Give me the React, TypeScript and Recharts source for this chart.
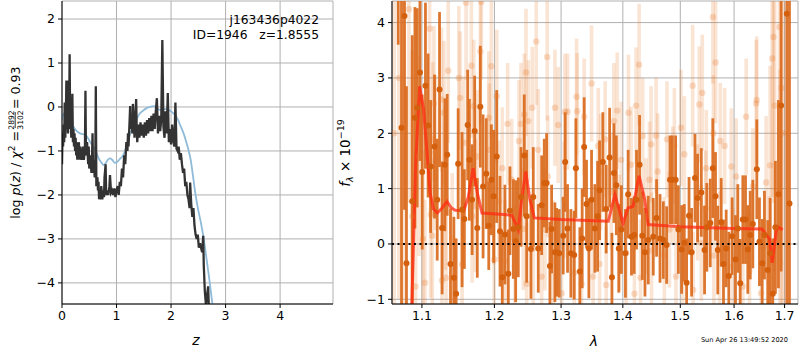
import React from 'react';
import {
  ComposedChart, Line, Scatter, ErrorBar, XAxis, YAxis, CartesianGrid, ReferenceLine,
} from 'recharts';

// ---------- Left panel: log p(z) ----------
const zTicks = [0, 1, 2, 3, 4];
const lpTicks = [-4, -3, -2, -1, 0, 1, 2];

const pzCurve: [number, number][] = [
  [0.00, -1.3], [0.01, -0.6], [0.02, -0.9], [0.03, -0.4], [0.04, -0.8], [0.05, 0.1], [0.06, -0.7],
  [0.07, -0.3], [0.08, 0.6], [0.09, -0.5], [0.10, 0.0], [0.11, -0.6], [0.12, 0.6], [0.13, -0.4],
  [0.14, 1.2], [0.15, -0.5], [0.16, -0.2], [0.17, -0.7], [0.18, -0.4], [0.19, 0.3], [0.20, -0.8],
  [0.21, -0.5], [0.22, -0.9], [0.23, -0.6], [0.24, -1.0], [0.25, -0.7], [0.26, -1.1], [0.27, -0.8],
  [0.28, -1.2], [0.29, -0.9], [0.30, -1.1], [0.31, -0.8], [0.32, -1.2], [0.33, -0.9], [0.34, -1.1],
  [0.36, -1.2], [0.38, -0.9], [0.40, -1.2], [0.42, -1.0], [0.43, 0.37], [0.44, -1.1], [0.46, -0.8],
  [0.48, -1.3], [0.49, -0.9], [0.50, -1.4], [0.52, -1.1], [0.54, -1.5], [0.55, -1.2], [0.56, -0.6],
  [0.57, -1.5], [0.58, -1.2], [0.60, -1.6], [0.61, -1.4], [0.62, 0.47], [0.63, -1.8], [0.65, -1.6],
  [0.66, -1.9], [0.67, -1.7], [0.68, -2.1], [0.70, -1.9], [0.71, -2.1], [0.72, -1.8], [0.74, -2.1],
  [0.75, -1.9], [0.77, -2.05], [0.78, -1.6], [0.80, -1.3], [0.81, -2.0], [0.83, -1.9], [0.85, -2.0],
  [0.87, -1.8], [0.88, -1.55], [0.90, -1.95], [0.92, -1.9], [0.94, -2.0], [0.96, -1.85], [0.98, -2.05],
  [1.00, -1.9], [1.02, -1.8], [1.04, -2.0], [1.06, -1.7], [1.08, -1.8], [1.10, -1.4], [1.12, -1.6],
  [1.14, -1.1], [1.16, -1.3], [1.18, -0.8], [1.20, -1.0], [1.21, -0.6], [1.22, -0.9], [1.24, -0.3],
  [1.25, 0.02], [1.26, -0.5], [1.28, -0.2], [1.29, -0.6], [1.30, 0.07], [1.32, -0.4], [1.33, -0.7],
  [1.36, 0.18], [1.37, -0.5], [1.38, -0.8], [1.40, -0.4], [1.42, -0.7], [1.44, -0.35], [1.46, -0.65],
  [1.48, -0.4], [1.50, -0.7], [1.52, -0.35], [1.54, -0.65], [1.56, -0.3], [1.58, -0.6], [1.60, -0.25],
  [1.62, -0.55], [1.64, -0.2], [1.66, -0.55], [1.68, -0.15], [1.70, -0.5], [1.72, -0.1], [1.74, 0.2],
  [1.76, -0.6], [1.78, -0.2], [1.80, -0.55], [1.82, -0.3], [1.84, 1.52], [1.86, -0.45], [1.88, -0.7],
  [1.90, -0.1], [1.92, -0.6], [1.94, 0.32], [1.96, -0.8], [1.98, -0.5], [2.00, -0.85], [2.02, -0.4],
  [2.04, -0.75], [2.06, -0.9], [2.08, 0.1], [2.10, -0.95], [2.12, -1.0], [2.14, -0.9], [2.16, -1.2],
  [2.18, -1.05], [2.20, -1.3], [2.22, -1.5], [2.24, -1.4], [2.26, -1.8], [2.28, -1.7], [2.30, -2.0],
  [2.32, -2.1], [2.34, -2.3], [2.35, -1.72], [2.37, -2.2], [2.39, -2.5], [2.41, -2.3], [2.43, -2.7],
  [2.45, -2.9], [2.47, -3.0], [2.49, -2.9], [2.51, -3.2], [2.53, -3.1], [2.55, -3.2], [2.57, -3.3],
  [2.59, -2.93], [2.60, -3.6], [2.62, -4.2], [2.64, -4.5], [2.66, -4.3], [2.68, -4.08], [2.70, -4.8],
];

const pzTemplate: [number, number][] = [
  [0.00, -0.3], [0.02, -0.18], [0.05, -0.14], [0.09, -0.14], [0.14, -0.25], [0.21, -0.45],
  [0.27, -0.55], [0.33, -0.6], [0.39, -0.62], [0.45, -0.66], [0.51, -0.78], [0.57, -0.9],
  [0.62, -1.0], [0.67, -1.16], [0.72, -1.26], [0.76, -1.32], [0.80, -1.28], [0.84, -1.2],
  [0.88, -1.17], [0.92, -1.2], [0.97, -1.27], [1.02, -1.24], [1.07, -1.17], [1.12, -1.1],
  [1.18, -0.9], [1.24, -0.65], [1.30, -0.45], [1.36, -0.3], [1.42, -0.16], [1.49, -0.08],
  [1.56, -0.02], [1.63, 0.01], [1.68, 0.02], [1.74, -0.02], [1.80, -0.07], [1.86, -0.05],
  [1.92, -0.05], [2.00, -0.1], [2.07, -0.18], [2.13, -0.3], [2.18, -0.45], [2.23, -0.6],
  [2.28, -0.8], [2.32, -0.98], [2.36, -1.2], [2.40, -1.55], [2.45, -2.0], [2.50, -2.35],
  [2.55, -2.65], [2.60, -3.0], [2.65, -3.45], [2.70, -3.9], [2.75, -4.4], [2.80, -4.9],
];

// ---------- Right panel: spectrum ----------
const lamTicks = [1.1, 1.2, 1.3, 1.4, 1.5, 1.6, 1.7];
const fluxTicks = [-1, 0, 1, 2, 3, 4];

// [lambda, flux, err]
const specFaint: [number, number, number][] = [
  [1.0640, 2.0, 4.0], [1.0700, 3.0, 4.0], [1.0765, 1.37, 3.5], [1.0830, 4.24, 3.5], [1.0873, 0.5, 3.0],
  [1.0916, -0.77, 2.0], [1.0961, 1.58, 1.8], [1.1014, 0.09, 1.6], [1.1040, -0.7, 1.5], [1.1102, 3.89, 1.6],
  [1.1115, 0.53, 1.5], [1.1138, 0.15, 1.4], [1.1144, 1.89, 1.4], [1.1160, 2.54, 1.4], [1.1182, 1.65, 1.4],
  [1.1262, 2.61, 1.3], [1.1268, -0.66, 1.3], [1.1294, 2.37, 1.3], [1.1316, 0.83, 1.3], [1.1323, -0.61, 1.3],
  [1.1353, 3.13, 1.3], [1.1407, 0.08, 1.2], [1.1498, 3.0, 1.3], [1.1516, 2.64, 1.2], [1.1544, -0.37, 1.2],
  [1.1567, 1.83, 1.2], [1.1599, 4.36, 1.4], [1.1673, 3.22, 1.3], [1.1683, 0.5, 1.2], [1.1707, 2.49, 1.2],
  [1.1729, 0.69, 1.2], [1.1753, 1.58, 1.2], [1.1799, 3.48, 1.3], [1.1813, 4.37, 1.4], [1.1919, 2.28, 1.2],
  [1.1927, 1.7, 1.2], [1.1956, 3.21, 1.3], [1.1990, 0.83, 1.2], [1.1997, -0.28, 1.2], [1.2033, 2.67, 1.2],
  [1.2066, 0.77, 1.1], [1.2114, 1.37, 1.1], [1.2153, -0.31, 1.1], [1.2192, 2.17, 1.1], [1.2251, 1.16, 1.1],
  [1.2300, -0.4, 1.1], [1.2359, 1.86, 1.1], [1.2389, 2.17, 1.1], [1.2423, 0.27, 1.1], [1.2438, 2.34, 1.1],
  [1.2464, 3.1, 1.15], [1.2474, -0.72, 1.1], [1.2498, 2.22, 1.1], [1.2558, 2.46, 1.1], [1.2573, -0.08, 1.1],
  [1.2618, 3.66, 1.15], [1.2649, 1.7, 1.1], [1.2700, -0.59, 1.1], [1.2750, 0.26, 1.1], [1.2785, 3.38, 1.15],
  [1.2793, 1.22, 1.1], [1.2878, -0.31, 1.1], [1.2904, 2.46, 1.05], [1.2955, 2.15, 1.05], [1.3008, -0.89, 1.05],
  [1.3049, 0.8, 1.05], [1.3060, 2.39, 1.05], [1.3102, 2.39, 1.05], [1.3206, -0.52, 1.05], [1.3244, 2.66, 1.05],
  [1.3253, 2.4, 1.05], [1.3323, -0.72, 1.05], [1.3365, 2.3, 1.05], [1.3484, 2.9, 1.05], [1.3510, -0.59, 1.05],
  [1.3592, 1.77, 1.05], [1.3614, -0.36, 1.05], [1.3631, 1.3, 1.05], [1.3707, 1.89, 1.05], [1.3723, -0.74, 1.05],
  [1.3806, 0.94, 1.05], [1.3851, 2.22, 1.05], [1.3906, 2.41, 1.05], [1.3944, 0.2, 1.05], [1.3971, 1.52, 1.05],
  [1.4055, -0.16, 1.05], [1.4095, 2.37, 1.05], [1.4139, 1.43, 1.05], [1.4196, -0.9, 1.05], [1.4224, 2.5, 1.05],
  [1.4276, 3.24, 1.1], [1.4300, -0.61, 1.05], [1.4339, 1.95, 1.05], [1.4396, 0.5, 1.05], [1.4455, 1.16, 1.05],
  [1.4483, 1.8, 1.05], [1.4491, -0.12, 1.05], [1.4570, 1.96, 1.05], [1.4599, 1.31, 1.05], [1.4716, -0.2, 1.05],
  [1.4762, 1.89, 1.05], [1.4805, 0.26, 1.05], [1.4863, 1.07, 1.05], [1.4894, 1.77, 1.05], [1.4922, -0.59, 1.05],
  [1.5012, 2.1, 1.05], [1.5043, -0.46, 1.05], [1.5073, 1.62, 1.05], [1.5224, 2.86, 1.1], [1.5233, -0.83, 1.05],
  [1.5315, 0.75, 1.05], [1.5346, 2.52, 1.05], [1.5383, 0.02, 1.05], [1.5401, 2.73, 1.05], [1.5463, 0.64, 1.05],
  [1.5476, 1.37, 1.05], [1.5598, 4.1, 1.2], [1.5608, 2.0, 1.05], [1.5617, -0.21, 1.05], [1.5649, 3.28, 1.1],
  [1.5724, -0.1, 1.05], [1.5737, 1.86, 1.05], [1.5819, 1.77, 1.05], [1.5946, 1.4, 1.05], [1.5977, -0.4, 1.05],
  [1.6041, 1.22, 1.05], [1.6169, -0.77, 1.05], [1.6234, 2.3, 1.05], [1.6299, -0.49, 1.05], [1.6364, 1.04, 1.05],
  [1.6430, 2.54, 1.15], [1.6442, 2.6, 1.15], [1.6529, -0.89, 1.1], [1.6628, 1.11, 1.2], [1.6694, -0.64, 1.5],
  [1.6708, 1.42, 1.8], [1.6748, 3.35, 2.5], [1.6774, 3.74, 3.0], [1.6800, 2.5, 3.0], [1.6895, 3.92, 4.0],
  [1.6905, -0.35, 3.5], [1.6936, 2.82, 4.0], [1.6970, 2.0, 4.0],
];

const specBright: [number, number, number][] = [
  [1.0691, 5.5, 1.9], [1.0734, 2.1, 4.5], [1.0772, 4.12, 3.5], [1.0798, -0.35, 3.2], [1.0873, 0.77, 3.0],
  [1.0908, 2.28, 2.0], [1.0938, 2.46, 1.8], [1.0974, 3.1, 1.6], [1.1004, 1.3, 1.4], [1.1047, 2.86, 1.5],
  [1.1082, 2.14, 1.3], [1.1115, 1.4, 1.2], [1.1168, 1.76, 1.3], [1.1204, 0.8, 1.1], [1.1235, 2.79, 1.4],
  [1.1270, 0.29, 1.2], [1.1307, 1.43, 1.2], [1.1339, 1.61, 1.1], [1.1384, -0.36, 1.0], [1.1430, -0.61, 1.1],
  [1.1461, -0.9, 1.0], [1.1489, 1.45, 1.0], [1.1543, 0.62, 1.4], [1.1575, 0.45, 0.9], [1.1621, 2.15, 1.0],
  [1.1645, 1.52, 1.1], [1.1683, 0.8, 1.0], [1.1719, 2.04, 1.0], [1.1756, 0.29, 0.9], [1.1799, 2.48, 1.1],
  [1.1838, 1.04, 1.3], [1.1884, 1.27, 1.0], [1.1919, 0.33, 0.8], [1.1956, 1.16, 1.0], [1.1990, 0.86, 1.2],
  [1.2033, 1.58, 1.2], [1.2081, 0.23, 1.0], [1.2114, -0.6, 0.8], [1.2153, 0.17, 0.9], [1.2202, -0.54, 0.8],
  [1.2226, 0.6, 0.8], [1.2275, 0.27, 0.9], [1.2310, 0.05, 1.1], [1.2349, 0.3, 0.9], [1.2389, 0.85, 0.9],
  [1.2438, 1.6, 1.1], [1.2474, 0.5, 1.2], [1.2538, -0.09, 0.9], [1.2573, 0.85, 0.9], [1.2649, -0.08, 0.8],
  [1.2700, 0.7, 0.9], [1.2740, 1.1, 0.8], [1.2776, 1.1, 0.9], [1.2827, -0.4, 0.8], [1.2853, 0.27, 0.8],
  [1.2904, -0.15, 0.9], [1.2930, -0.15, 0.8], [1.2970, -0.17, 0.8], [1.3033, 0.15, 0.7], [1.3064, 1.48, 0.9],
  [1.3101, 0.28, 0.8], [1.3154, -0.17, 0.8], [1.3206, -0.2, 0.8], [1.3233, 1.37, 0.9], [1.3296, -0.5, 0.8],
  [1.3333, 0.1, 0.9], [1.3365, 1.75, 0.9], [1.3403, 0.72, 0.8], [1.3441, -0.08, 0.9], [1.3484, 0.8, 0.9],
  [1.3538, 0.28, 0.8], [1.3582, 0.5, 1.0], [1.3614, 0.97, 0.9], [1.3668, 1.48, 0.9], [1.3723, 0.63, 0.8],
  [1.3780, 1.56, 0.9], [1.3818, -0.6, 0.8], [1.3852, 1.28, 0.9], [1.3891, 1.06, 0.9], [1.3932, -0.08, 0.8],
  [1.3976, 0.26, 0.8], [1.4044, -0.17, 0.8], [1.4090, 0.9, 0.8], [1.4146, 0.13, 0.7], [1.4192, 0.16, 0.7],
  [1.4232, 0.8, 0.9], [1.4284, 1.43, 0.9], [1.4331, 0.15, 0.8], [1.4377, -0.15, 0.8], [1.4434, 0.07, 0.8],
  [1.4521, 0.13, 0.7], [1.4579, 0.47, 0.7], [1.4639, 0.1, 0.8], [1.4697, 0.07, 0.7], [1.4756, -0.02, 0.7],
  [1.4816, 1.16, 0.8], [1.4857, 1.16, 0.8], [1.4916, 1.16, 0.8], [1.4965, 0.26, 0.8], [1.5024, -0.1, 0.8],
  [1.5072, 0.02, 0.7], [1.5114, -0.7, 0.8], [1.5158, 0.51, 0.7], [1.5205, -0.15, 0.8], [1.5267, 1.19, 0.8],
  [1.5314, 0.83, 0.8], [1.5383, 0.93, 0.8], [1.5443, -0.11, 0.8], [1.5485, 0.3, 0.8], [1.5549, 0.38, 0.8],
  [1.5597, 1.37, 0.9], [1.5647, 0.86, 0.8], [1.5690, -0.11, 0.8], [1.5755, 0.39, 0.8], [1.5798, -0.36, 0.8],
  [1.5849, -0.08, 0.7], [1.5899, -0.58, 0.8], [1.5963, 0.14, 0.7], [1.6027, -0.28, 0.8], [1.6072, 0.28, 0.8],
  [1.6118, -0.71, 0.8], [1.6169, 0.44, 0.8], [1.6221, 0.44, 0.8], [1.6266, -0.1, 0.8], [1.6313, 0.16, 0.8],
  [1.6364, 0.36, 0.8], [1.6443, 1.35, 0.9], [1.6495, 0.04, 0.8], [1.6549, -0.35, 0.8], [1.6594, 0.16, 0.8],
  [1.6660, -0.47, 0.9], [1.6708, -0.17, 1.0], [1.6760, -0.9, 1.0], [1.6814, 0.3, 1.2], [1.6875, 0.9, 1.7],
  [1.6929, 2.5, 3.0], [1.7045, 4.16, 6.0], [1.7100, 0.73, 6.0],
];

const modelSpec: [number, number][] = [
  [1.0830, -3.0], [1.0870, -1.0], [1.0916, 1.4], [1.0970, 2.85], [1.1022, 2.43], [1.1065, 1.7],
  [1.1108, 0.93], [1.1153, 0.63], [1.1205, 0.56], [1.1270, 0.65], [1.1335, 0.77], [1.1390, 0.66],
  [1.1448, 0.61], [1.1567, 0.6], [1.1630, 0.85], [1.1697, 1.37], [1.1760, 0.9], [1.1823, 0.56],
  [1.2033, 0.54], [1.2253, 0.52], [1.2349, 0.26], [1.2399, 0.8], [1.2459, 1.31], [1.2523, 0.8],
  [1.2588, 0.47], [1.3000, 0.44], [1.3757, 0.41], [1.3868, 0.89], [1.4004, 0.37], [1.4088, 0.65],
  [1.4172, 0.68], [1.4276, 1.23], [1.4374, 0.8], [1.4432, 0.35], [1.5000, 0.31], [1.6000, 0.28],
  [1.6547, 0.27], [1.6694, 0.09], [1.6750, -0.34], [1.6834, 0.25], [1.6874, 0.3], [1.6962, 0.26],
];

const FONT = 'DejaVu Sans';
const minus = (v: number) => String(v).replace('-', '\u2212');
const tickStyle = { fill: '#000', fontSize: 12.5, fontFamily: FONT };

const pzData = pzCurve.map(([z, lp]) => ({ z, lp }));
const tplData = pzTemplate.map(([z, lp]) => ({ z, lp }));
const faintData = specFaint.map(([lam, f, e]) => ({ lam, f, e }));
const brightData = specBright.map(([lam, f, e]) => ({ lam, f, e }));
const modelData = modelSpec.map(([lam, f]) => ({ lam, f }));

const FaintDot = (p: any) => (
  <circle cx={p.cx} cy={p.cy} r={3.2} fill="rgb(230,120,40)" fillOpacity={0.25} />
);
const BrightDot = (p: any) => (
  <circle cx={p.cx} cy={p.cy} r={3} fill="#d4600e" />
);

// plot-area clip for the spectrum panel (chart-local coordinates)
const SPEC_W = 460;
const SPEC_H = 350;
const SPEC_M = { top: 1, right: 2, bottom: 16, left: 0 };
const SPEC_YW = 52;
const SPEC_XH = 30;

const clipCss = `
.specwrap .recharts-errorBar, .specwrap .recharts-errorBars, .specwrap .recharts-scatter {
  clip-path: url(#specPlotClip);
}`;

export default function App() {
  return (
    <div style={{ position: 'absolute', left: 0, top: 0, width: 800, height: 350, background: '#fff', fontFamily: FONT }}>
      <style>{clipCss}</style>
      <svg width={0} height={0} style={{ position: 'absolute' }}>
        <defs>
          <clipPath id="specPlotClip" clipPathUnits="userSpaceOnUse">
            <rect x={SPEC_M.left + SPEC_YW} y={SPEC_M.top}
              width={SPEC_W - SPEC_M.left - SPEC_M.right - SPEC_YW}
              height={SPEC_H - SPEC_M.top - SPEC_M.bottom - SPEC_XH} />
          </clipPath>
        </defs>
      </svg>
      <div style={{ position: 'absolute', left: 0, top: 0 }}>
        <ComposedChart width={340} height={350} margin={{ top: 1, right: 7, bottom: 16, left: 0 }}>
          <CartesianGrid stroke="#b0b0b0" strokeWidth={1} />
          <XAxis type="number" dataKey="z" domain={[0, 4.97]} ticks={zTicks} allowDataOverflow
            height={30} tickSize={4} tickMargin={3} stroke="#000" tick={tickStyle} />
          <XAxis xAxisId="top" orientation="top" type="number" dataKey="z" domain={[0, 4.97]}
            height={0} tick={false} tickLine={false} axisLine={{ stroke: '#000' }} />
          <YAxis type="number" dataKey="lp" domain={[-4.48, 2.41]} ticks={lpTicks} allowDataOverflow
            width={62} tickSize={4} tickMargin={3} stroke="#000" tick={tickStyle} tickFormatter={minus} />
          <YAxis yAxisId="right" orientation="right" type="number" domain={[-4.48, 2.41]}
            width={0} tick={false} tickLine={false} axisLine={{ stroke: '#000' }} />
          <Line data={tplData} dataKey="lp" type="monotone" stroke="#8fbbd9" strokeWidth={1.8}
            dot={false} isAnimationActive={false} />
          <Line data={pzData} dataKey="lp" type="linear" stroke="#333333" strokeWidth={2.3}
            dot={false} isAnimationActive={false} />
        </ComposedChart>
      </div>
      <div className="specwrap" style={{ position: 'absolute', left: 340, top: 0 }}>
        <ComposedChart width={SPEC_W} height={SPEC_H} margin={SPEC_M}>
          <CartesianGrid stroke="#b0b0b0" strokeWidth={1} />
          <XAxis type="number" dataKey="lam" scale="log" domain={[1.0612, 1.7276]} ticks={lamTicks}
            allowDataOverflow height={SPEC_XH} tickSize={4} tickMargin={3} stroke="#000" tick={tickStyle} />
          <XAxis xAxisId="top" orientation="top" type="number" scale="log" dataKey="lam" domain={[1.0612, 1.7276]}
            height={0} tick={false} tickLine={false} axisLine={{ stroke: '#000' }} />
          <YAxis type="number" dataKey="f" domain={[-1.085, 4.39]} ticks={fluxTicks} allowDataOverflow
            width={SPEC_YW} tickSize={4} tickMargin={3} stroke="#000" tick={tickStyle} tickFormatter={minus} />
          <YAxis yAxisId="right" orientation="right" type="number" domain={[-1.085, 4.39]}
            width={0} tick={false} tickLine={false} axisLine={{ stroke: '#000' }} />
          <Scatter data={faintData} dataKey="f" shape={FaintDot} isAnimationActive={false}>
            <ErrorBar dataKey="e" direction="y" width={0} stroke="rgb(230,120,40)" strokeOpacity={0.2}
              strokeWidth={3.6} isAnimationActive={false} />
          </Scatter>
          <Scatter data={brightData} dataKey="f" shape={BrightDot} isAnimationActive={false}>
            <ErrorBar dataKey="e" direction="y" width={0} stroke="#da6a1c" strokeOpacity={0.92}
              strokeWidth={2.8} isAnimationActive={false} />
          </Scatter>
          <Line data={modelData} dataKey="f" type="linear" stroke="#ff2a12" strokeOpacity={0.75}
            strokeWidth={3} dot={false} isAnimationActive={false} />
          <ReferenceLine y={0} stroke="#000" strokeWidth={2} strokeDasharray="2 3.5" />
        </ComposedChart>
      </div>
      <svg width={800} height={350} style={{ position: 'absolute', left: 0, top: 0, pointerEvents: 'none' }}
        fontFamily={FONT}>
        <text x={319} y={24} textAnchor="end" fontSize={12.3} fill="#000">j163436p4022</text>
        <text x={319} y={39} textAnchor="end" fontSize={12.3} fill="#000" style={{ whiteSpace: 'pre' }}>
          {'ID=1946   z=1.8555'}
        </text>
        <text x={196} y={345} textAnchor="middle" fontSize={14} fontStyle="italic" fill="#000">z</text>
        <text x={594} y={346} textAnchor="middle" fontSize={14} fontStyle="italic" fill="#000">λ</text>
        <text x={788} y={342} textAnchor="end" fontSize={6.6} fill="#000">Sun Apr 26 13:49:52 2020</text>
        <g transform="translate(20,153) rotate(-90)" fill="#000">
          <text x={22} textAnchor="end" fontSize={12.6} style={{ whiteSpace: 'pre' }}>
            {'log '}<tspan fontStyle="italic">p</tspan>{'('}<tspan fontStyle="italic">z</tspan>{') / '}
            <tspan fontStyle="italic">χ</tspan><tspan dy={-5} fontSize={9}>2</tspan><tspan dy={5}>{' ='}</tspan>
          </text>
          <text x={33} y={-6.5} textAnchor="middle" fontSize={7.6}>2892</text>
          <line x1={25} x2={41} y1={-4.8} y2={-4.8} stroke="#000" strokeWidth={0.8} />
          <text x={33} y={2.5} textAnchor="middle" fontSize={7.6}>3102</text>
          <text x={44} fontSize={12.6} style={{ whiteSpace: 'pre' }}>{'= 0.93'}</text>
        </g>
        <g transform="translate(350,153) rotate(-90)" fill="#000">
          <text textAnchor="middle" fontSize={13.5}>
            <tspan fontStyle="italic">f</tspan><tspan dy={3} fontSize={9.5} fontStyle="italic">λ</tspan>
            <tspan dy={-3}>{' × 10'}</tspan><tspan dy={-6} fontSize={9.5}>−19</tspan>
          </text>
        </g>
      </svg>
    </div>
  );
}
